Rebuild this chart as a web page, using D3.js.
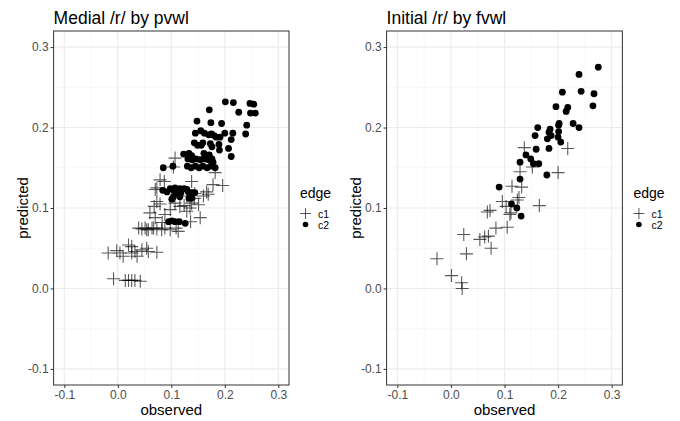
<!DOCTYPE html>
<html>
<head>
<meta charset="utf-8">
<script src="https://cdn.jsdelivr.net/npm/d3@7"></script>
<style>
  body { margin: 0; background: #fff; }
  svg { display: block; font-family: "Liberation Sans", Arial, sans-serif; }
</style>
</head>
<body>
<svg id="chart" width="680" height="421"></svg>
<script>
// [observed, predicted]
var medialC1 = [
  [0.107,0.162],[0.104,0.151],[0.079,0.135],[0.087,0.133],[0.073,0.125],[0.138,0.133],
  [0.182,0.144],[0.178,0.129],[0.196,0.128],[0.144,0.118],[0.143,0.112],[0.129,0.115],
  [0.138,0.106],[0.124,0.103],[0.135,0.100],[0.166,0.120],[0.169,0.117],[0.160,0.115],
  [0.154,0.088],[0.136,0.083],[0.109,0.075],[0.060,0.094],[0.070,0.088],[0.073,0.108],
  [0.068,0.102],[0.107,0.106],[0.116,0.102],[0.129,0.096],[0.151,0.104],[0.079,0.105],
  [0.070,0.123],[0.098,0.098],[0.088,0.092],[0.113,0.071],[0.083,0.082],
  [0.039,0.075],[0.045,0.074],[0.051,0.075],[0.054,0.073],[0.057,0.073],[0.064,0.075],
  [0.067,0.075],[0.073,0.074],[0.082,0.073],[0.088,0.075],[0.098,0.073],
  [-0.018,0.044],[-0.002,0.047],[0.004,0.044],[0.010,0.040],[0.020,0.054],[0.026,0.052],
  [0.026,0.044],[0.032,0.046],[0.036,0.040],[0.045,0.048],[0.054,0.050],[0.057,0.046],
  [0.073,0.045],
  [-0.008,0.012],[0.014,0.010],[0.020,0.010],[0.026,0.010],[0.032,0.010],[0.042,0.009]
];
var medialC2 = [
  [0.201,0.232],[0.216,0.231],[0.247,0.230],[0.254,0.229],[0.171,0.222],[0.226,0.219],
  [0.248,0.218],[0.257,0.218],[0.148,0.208],[0.174,0.206],[0.194,0.205],[0.241,0.203],
  [0.145,0.193],[0.155,0.196],[0.162,0.193],[0.170,0.191],[0.175,0.192],[0.180,0.190],
  [0.184,0.188],[0.191,0.188],[0.200,0.193],[0.215,0.193],[0.239,0.192],[0.212,0.185],
  [0.143,0.181],[0.149,0.178],[0.156,0.178],[0.159,0.181],[0.173,0.180],[0.176,0.176],
  [0.189,0.179],[0.207,0.174],[0.190,0.172],[0.123,0.167],[0.133,0.168],[0.138,0.165],
  [0.161,0.168],[0.171,0.166],[0.212,0.164],[0.178,0.157],
  [0.131,0.161],[0.139,0.160],[0.146,0.161],[0.154,0.160],[0.161,0.161],[0.169,0.160],[0.176,0.161],
  [0.103,0.152],[0.085,0.150],[0.130,0.152],[0.137,0.150],[0.145,0.152],[0.152,0.150],
  [0.159,0.152],[0.167,0.150],[0.174,0.152],[0.182,0.150],
  [0.084,0.122],[0.098,0.124],[0.104,0.122],[0.107,0.125],[0.110,0.119],[0.116,0.124],
  [0.113,0.119],[0.129,0.123],[0.132,0.120],[0.139,0.119],[0.144,0.119],[0.133,0.112],
  [0.116,0.114],[0.104,0.114],[0.101,0.111],[0.124,0.124],[0.092,0.120],[0.118,0.119],
  [0.138,0.112],
  [0.095,0.083],[0.101,0.084],[0.107,0.083],[0.115,0.083],[0.126,0.081]
];
var initialC1 = [
  [0.137,0.175],[0.218,0.174],[0.200,0.144],[0.152,0.151],[0.129,0.145],[0.114,0.127],
  [0.132,0.126],[0.124,0.110],[0.096,0.108],[0.165,0.103],[0.103,0.102],[0.073,0.097],
  [0.068,0.095],[0.110,0.092],[0.084,0.075],[0.105,0.076],[0.024,0.067],[0.054,0.061],
  [0.063,0.064],[0.070,0.065],[0.075,0.050],[0.029,0.043],[-0.026,0.037],[0.001,0.016],
  [0.020,0.007],[0.021,0.000],[0.112,0.094],[0.127,0.113]
];
var initialC2 = [
  [0.275,0.275],[0.239,0.266],[0.243,0.245],[0.208,0.244],[0.267,0.242],[0.265,0.227],
  [0.196,0.226],[0.218,0.225],[0.215,0.220],[0.228,0.205],[0.239,0.200],[0.202,0.205],
  [0.201,0.203],[0.162,0.200],[0.185,0.198],[0.157,0.190],[0.183,0.194],[0.201,0.195],
  [0.187,0.190],[0.180,0.186],[0.200,0.188],[0.205,0.182],[0.159,0.173],[0.183,0.174],
  [0.140,0.166],[0.149,0.161],[0.129,0.157],[0.154,0.155],[0.164,0.155],[0.179,0.141],
  [0.129,0.136],[0.090,0.126],[0.113,0.105],[0.123,0.100],[0.131,0.090]
];
var ticks = [-0.1, 0.0, 0.1, 0.2, 0.3];
var minorTicks = [-0.05, 0.05, 0.15, 0.25];
var legendLabels = ["c1", "c2"];

var svg = d3.select("#chart");

function drawPanel(x0, x1, title, c1, c2) {
  var x = d3.scaleLinear().domain([-0.12, 0.32]).range([x0, x1]);
  var y = d3.scaleLinear().domain([-0.12, 0.32]).range([385, 31]);
  var g = svg.append("g");

  /* grille mineure puis majeure */
  g.selectAll(".vmin").data(minorTicks).enter().append("line")
    .attr("x1", d => x(d)).attr("x2", d => x(d)).attr("y1", y.range()[1]).attr("y2", y.range()[0])
    .attr("stroke", "#f4f4f4").attr("stroke-width", 0.6);
  g.selectAll(".hmin").data(minorTicks).enter().append("line")
    .attr("y1", d => y(d)).attr("y2", d => y(d)).attr("x1", x0).attr("x2", x1)
    .attr("stroke", "#f4f4f4").attr("stroke-width", 0.6);
  g.selectAll(".vmaj").data(ticks).enter().append("line")
    .attr("x1", d => x(d)).attr("x2", d => x(d)).attr("y1", y.range()[1]).attr("y2", y.range()[0])
    .attr("stroke", "#ebebeb").attr("stroke-width", 1.1);
  g.selectAll(".hmaj").data(ticks).enter().append("line")
    .attr("y1", d => y(d)).attr("y2", d => y(d)).attr("x1", x0).attr("x2", x1)
    .attr("stroke", "#ebebeb").attr("stroke-width", 1.1);

  /* axes */
  var xAxis = g.append("g").attr("transform", "translate(0,385)")
    .call(d3.axisBottom(x).tickValues(ticks).tickFormat(d3.format(".1f")).tickSize(3).tickPadding(2));
  var yAxis = g.append("g").attr("transform", "translate(" + x0 + ",0)")
    .call(d3.axisLeft(y).tickValues(ticks).tickFormat(d3.format(".1f")).tickSize(3).tickPadding(2));
  [xAxis, yAxis].forEach(function (a) {
    a.select(".domain").remove();
    a.selectAll(".tick line").attr("stroke", "#333");
    a.selectAll("text").attr("fill", "#4d4d4d").style("font-size", "12px")
      .style("font-family", "'Liberation Sans', Arial, sans-serif");
  });
  xAxis.selectAll("text").text(d => d3.format(".1f")(d).replace("\u2212", "-"));
  yAxis.selectAll("text").text(d => d3.format(".1f")(d).replace("\u2212", "-"));

  /* points c2 (ronds) */
  g.selectAll(".c2").data(c2).enter().append("circle")
    .attr("cx", d => x(d[0])).attr("cy", d => y(d[1])).attr("r", 3.4)
    .attr("fill", "#000");

  /* points c1 (plus) */
  g.selectAll(".c1").data(c1).enter().append("path")
    .attr("d", function (d) {
      var cx = x(d[0]), cy = y(d[1]), s = 6.5;
      return "M" + (cx - s) + "," + cy + "h" + (2 * s) + "M" + cx + "," + (cy - s) + "v" + (2 * s);
    })
    .attr("stroke", "#000").attr("stroke-opacity", 0.65).attr("stroke-width", 1.1).attr("fill", "none");

  /* cadre */
  g.append("rect").attr("x", x0).attr("y", 31).attr("width", x1 - x0).attr("height", 354)
    .attr("fill", "none").attr("stroke", "#333").attr("stroke-width", 1);

  /* titres */
  g.append("text").attr("x", x0).attr("y", 24).text(title)
    .style("font-size", "17.5px").attr("fill", "#000");
  g.append("text").attr("x", (x0 + x1) / 2).attr("y", 415).attr("text-anchor", "middle")
    .text("observed").style("font-size", "15px").attr("fill", "#000");
  g.append("text").attr("transform", "translate(" + (x0 - 26) + ",208) rotate(-90)")
    .attr("text-anchor", "middle").text("predicted").style("font-size", "15px").attr("fill", "#000");

  /* légende */
  var lx = x1 + 11;
  g.append("text").attr("x", lx).attr("y", 198).text("edge").style("font-size", "14px").attr("fill", "#000");
  var lg = g.selectAll(".leg").data(legendLabels).enter().append("g")
    .attr("transform", (d, i) => "translate(" + (lx + 5.5) + "," + (213.5 + i * 11) + ")");
  lg.append("text").attr("x", 12.5).attr("y", 4).text(d => d).style("font-size", "10.5px").attr("fill", "#000");
  lg.filter(d => d === "c1").append("path").attr("d", "M-5.5,0h11M0,-5.5v11")
    .attr("stroke", "#000").attr("stroke-opacity", 0.65).attr("stroke-width", 1);
  lg.filter(d => d === "c2").append("circle").attr("r", 2.8).attr("fill", "#000");
}

drawPanel(53.6, 289, "Medial /r/ by pvwl", medialC1, medialC2);
drawPanel(386.6, 622.4, "Initial /r/ by fvwl", initialC1, initialC2);
</script>
</body>
</html>
